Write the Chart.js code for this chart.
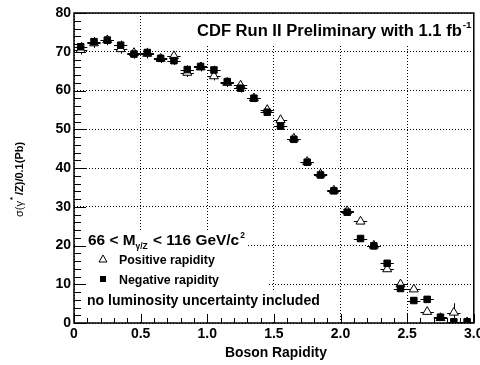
<!DOCTYPE html>
<html>
<head>
<meta charset="utf-8">
<script src="https://cdn.jsdelivr.net/npm/chart.js@4.4.0/dist/chart.umd.min.js"></script>
<style>
  html, body { margin: 0; padding: 0; background: #fff; }
  canvas { display: block; }
</style>
</head>
<body>
<canvas id="chart" width="480" height="365"></canvas>
<script>
const FAMILY = '"Liberation Sans", Arial, Helvetica, sans-serif';

// bin centres (bins are 0.1 wide in boson rapidity)
const rapidity = [0.05, 0.15, 0.25, 0.35, 0.45, 0.55, 0.65, 0.75, 0.85, 0.95,
                  1.05, 1.15, 1.25, 1.35, 1.45, 1.55, 1.65, 1.75, 1.85, 1.95,
                  2.05, 2.15, 2.25, 2.35, 2.45, 2.55, 2.65, 2.75, 2.85, 2.95];
const binHalfWidth = 0.05;

// positive rapidity (open triangles)
const positive = [70.5, 72.2, 73.0, 70.7, 69.7, 69.5, 68.2, 68.9, 64.6, 66.0,
                  63.7, 62.0, 61.3, 58.0, 55.0, 52.4, 47.6, 41.6, 38.4, 34.2,
                  28.9, 26.2, 20.0, 13.9, 10.0, 8.7, 2.9, 1.3, 2.7, 0.2];
const positiveErr = [1.2, 1.2, 1.3, 1.2, 1.2, 1.2, 1.1, 1.1, 1.1, 1.1,
                     1.1, 1.1, 1.1, 1.0, 1.0, 1.0, 0.9, 0.9, 0.9, 0.8,
                     0.8, 0.7, 0.7, 0.7, 0.6, 0.6, 0.5, 0.6, 2.4, 0.4];

// negative rapidity (filled squares)
const negative = [71.3, 72.6, 73.0, 71.7, 69.4, 69.8, 68.3, 67.7, 65.4, 66.2,
                  65.3, 62.3, 60.6, 58.0, 54.4, 50.8, 47.4, 41.5, 38.2, 34.1,
                  28.6, 21.8, 19.9, 15.4, 8.9, 5.8, 6.1, 1.5, 0.3, 0.3];
const negativeErr = [1.2, 1.2, 1.3, 1.2, 1.2, 1.2, 1.1, 1.1, 1.1, 1.1,
                     1.1, 1.1, 1.1, 1.0, 1.0, 1.0, 0.9, 0.9, 0.9, 0.8,
                     0.8, 0.7, 0.7, 0.8, 0.7, 0.6, 0.8, 0.5, 0.4, 0.4];

const xTicks = [0, 0.5, 1, 1.5, 2, 2.5, 3];
const yTicks = [0, 10, 20, 30, 40, 50, 60, 70, 80];
const xMinorStep = 0.1;
const yMinorStep = 2;

function points(values) {
  return rapidity.map((x, i) => ({ x: x, y: values[i] }));
}

// size a font so that the text takes a given width
function fitSize(ctx, text, width, weight) {
  ctx.font = weight + ' 20px ' + FAMILY;
  return 20 * width / ctx.measureText(text).width;
}

// "66 < M_{γ/Z} < 116 GeV/c^2", returns its width
function massLine(ctx, size, x0, base, draw) {
  const big = 'bold ' + size + 'px ' + FAMILY;
  const small = 'bold ' + (size * 0.55) + 'px ' + FAMILY;
  let x = x0;
  const part = (text, font, dy, gap) => {
    ctx.font = font;
    if (draw) ctx.fillText(text, x, base + dy);
    x += ctx.measureText(text).width + gap;
  };
  part('66 < M', big, 0, 0);
  part('\u03b3/Z', small, 4, 1);
  part(' < 116 GeV/c', big, 0, 1);
  part('2', small, -7, 0);
  return x - x0;
}

const rootStyle = {
  id: 'rootStyle',
  beforeDatasetsDraw(chart) {
    const ctx = chart.ctx;
    const xs = chart.scales.x, ys = chart.scales.y;
    ctx.save();
    // white boxes behind the title and the legend
    ctx.fillStyle = '#fff';
    ctx.fillRect(190, 15, 287, 31);
    ctx.fillRect(76, 232, 172, 18);
    ctx.fillRect(76, 250, 192, 42);
    ctx.fillRect(76, 292, 248, 29);

    // error bars
    ctx.strokeStyle = '#000';
    ctx.lineWidth = 1;
    const sets = [[positive, positiveErr], [negative, negativeErr]];
    sets.forEach(([vals, errs]) => {
      vals.forEach((v, i) => {
        const px = xs.getPixelForValue(rapidity[i]);
        const x0 = xs.getPixelForValue(rapidity[i] - binHalfWidth);
        const x1 = xs.getPixelForValue(rapidity[i] + binHalfWidth);
        const py = ys.getPixelForValue(v);
        const y0 = ys.getPixelForValue(Math.max(0, v - errs[i]));
        const y1 = ys.getPixelForValue(v + errs[i]);
        ctx.beginPath();
        ctx.moveTo(x0, Math.round(py) + 0.5);
        ctx.lineTo(x1, Math.round(py) + 0.5);
        ctx.moveTo(Math.round(px) + 0.5, y0);
        ctx.lineTo(Math.round(px) + 0.5, y1);
        ctx.stroke();
      });
    });
    ctx.restore();
  },
  afterDraw(chart) {
    const ctx = chart.ctx;
    const a = chart.chartArea;
    const xs = chart.scales.x, ys = chart.scales.y;
    ctx.save();
    ctx.strokeStyle = '#000';
    ctx.fillStyle = '#000';

    // ticks on the left and bottom axes, inside the frame
    ctx.lineWidth = 1;
    ctx.beginPath();
    for (let v = 0; v <= 80 + 1e-9; v += yMinorStep) {
      const y = Math.round(ys.getPixelForValue(v)) + 0.5;
      const len = yTicks.includes(Math.round(v)) ? 12 : 7;
      ctx.moveTo(a.left, y);
      ctx.lineTo(a.left + len, y);
    }
    for (let i = 0; i <= 30; i++) {
      const v = i * xMinorStep;
      const x = Math.round(xs.getPixelForValue(v)) + 0.5;
      const len = i % 5 === 0 ? 9 : 5;
      ctx.moveTo(x, a.bottom);
      ctx.lineTo(x, a.bottom - len);
    }
    ctx.stroke();

    // frame
    ctx.lineWidth = 1.5;
    ctx.strokeRect(a.left, a.top, a.right - a.left, a.bottom - a.top);

    ctx.textAlign = 'left';
    ctx.textBaseline = 'alphabetic';

    // title
    const title = 'CDF Run II Preliminary with 1.1 fb';
    const ts = fitSize(ctx, title, 265, 'bold');
    ctx.font = 'bold ' + ts + 'px ' + FAMILY;
    ctx.fillText(title, 197, 36);
    const tw = ctx.measureText(title).width;
    ctx.font = 'bold ' + (ts * 0.6) + 'px ' + FAMILY;
    ctx.fillText('-1', 197 + tw + 1, 28);

    // legend block
    const note = 'no luminosity uncertainty included';
    const ls = fitSize(ctx, note, 233, 'bold');
    const w = massLine(ctx, ls, 88, 245, false);
    massLine(ctx, ls * 157 / w, 88, 245, true);

    const rs = fitSize(ctx, 'Positive rapidity', 96, 'bold');
    ctx.font = 'bold ' + rs + 'px ' + FAMILY;
    ctx.fillText('Positive rapidity', 119, 264);
    ctx.fillText('Negative rapidity', 119, 284);
    ctx.font = 'bold ' + ls + 'px ' + FAMILY;
    ctx.fillText(note, 87, 305);

    // legend markers
    ctx.lineWidth = 1;
    ctx.beginPath();
    ctx.moveTo(103, 255);
    ctx.lineTo(107, 262);
    ctx.lineTo(99, 262);
    ctx.closePath();
    ctx.stroke();
    ctx.fillRect(100, 276, 6, 6);

    // x title
    const xt = 'Boson Rapidity';
    ctx.font = 'bold ' + fitSize(ctx, xt, 102, 'bold') + 'px ' + FAMILY;
    ctx.fillText(xt, 225, 357);

    // y title, rotated
    ctx.translate(23, 217);
    ctx.rotate(-Math.PI / 2);
    let y = 0;
    ctx.font = '11px ' + FAMILY;
    ctx.fillText('\u03c3(\u03b3', y, 0);
    y += ctx.measureText('\u03c3(\u03b3').width;
    ctx.font = 'bold 8px ' + FAMILY;
    ctx.fillText('*', y + 1, -8);
    y += 6;
    ctx.font = 'bold 11px ' + FAMILY;
    ctx.fillText('/Z)/0.1(Pb)', y, 0);
    ctx.restore();
  }
};

const tickFont = { family: FAMILY, size: 14, weight: 'bold' };

new Chart(document.getElementById('chart'), {
  type: 'scatter',
  data: {
    datasets: [
      {
        label: 'Negative rapidity',
        data: points(negative),
        pointStyle: 'rect',
        pointRadius: 4.6,
        backgroundColor: '#000',
        borderColor: '#000',
        borderWidth: 1,
        order: 0
      },
      {
        label: 'Positive rapidity',
        data: points(positive),
        pointStyle: 'triangle',
        pointRadius: 5.2,
        backgroundColor: '#fff',
        borderColor: '#000',
        borderWidth: 1,
        order: 1
      }
    ]
  },
  options: {
    responsive: false,
    animation: false,
    events: [],
    layout: { padding: { top: 13, right: 1, left: 0, bottom: 0 } },
    plugins: { legend: { display: false }, tooltip: { enabled: false } },
    scales: {
      x: {
        type: 'linear',
        min: 0,
        max: 3,
        afterBuildTicks: s => { s.ticks = xTicks.map(v => ({ value: v })); },
        afterFit: s => { s.height = 42; s.paddingLeft = 0; s.paddingRight = 0; },
        grid: { color: '#000', lineWidth: 1, drawTicks: false },
        border: { display: false, dash: [1, 2] },
        ticks: { autoSkip: false, maxRotation: 0, padding: 3, color: '#000', font: tickFont }
      },
      y: {
        type: 'linear',
        min: 0,
        max: 80,
        afterBuildTicks: s => { s.ticks = yTicks.map(v => ({ value: v })); },
        afterFit: s => { s.width = 74; },
        grid: { color: '#000', lineWidth: 1, drawTicks: false },
        border: { display: false, dash: [1, 2] },
        ticks: { padding: 3, color: '#000', font: tickFont }
      }
    }
  },
  plugins: [rootStyle]
});
</script>
</body>
</html>
